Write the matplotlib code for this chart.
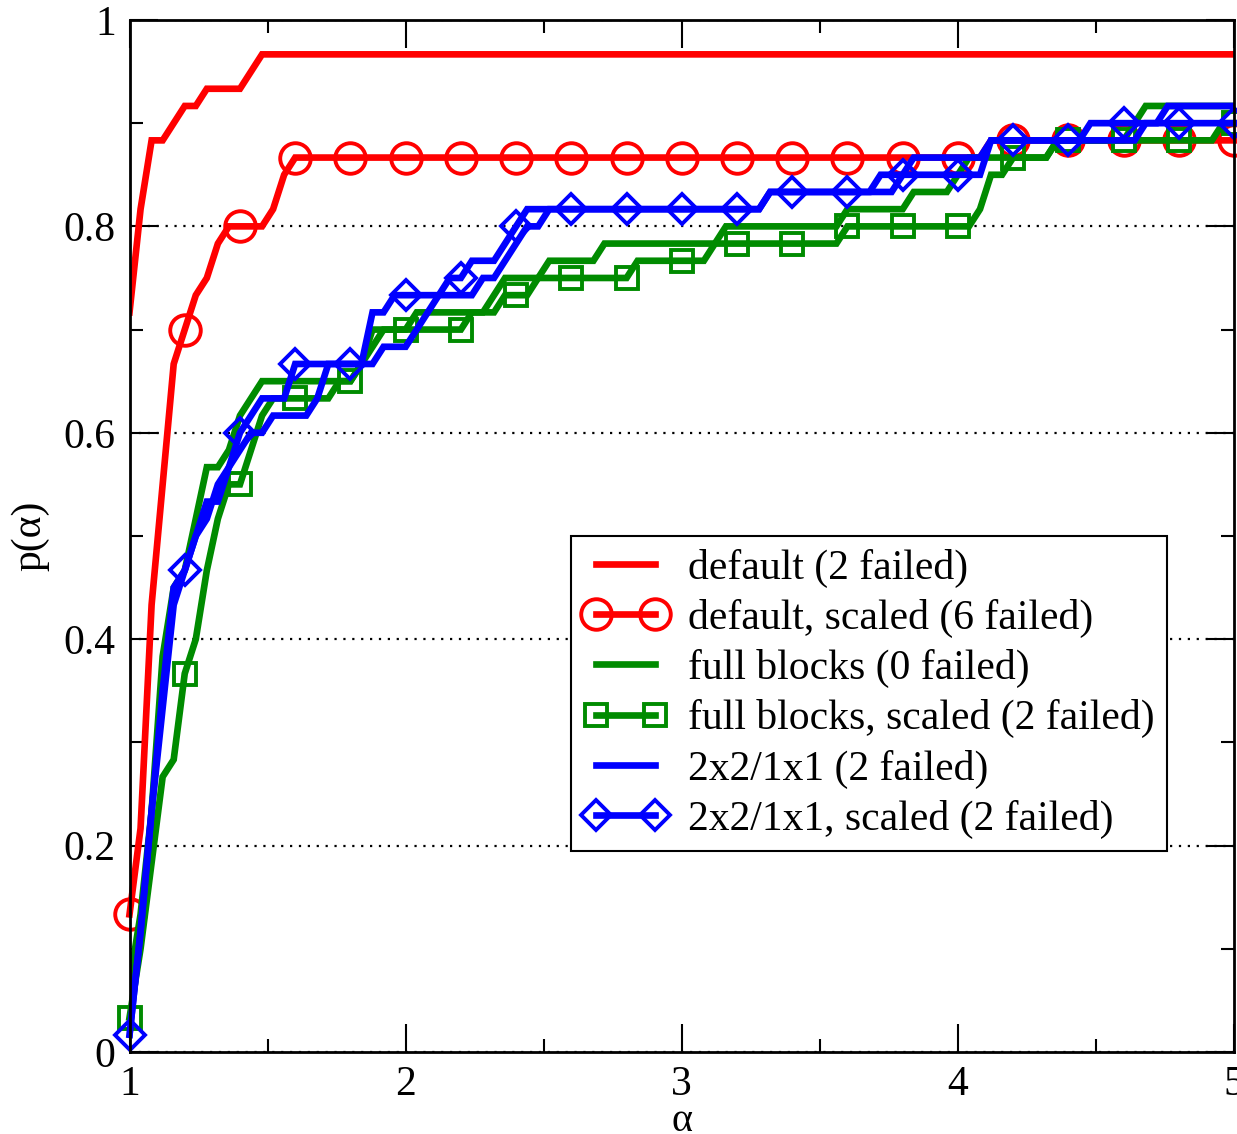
import numpy as np
import matplotlib
matplotlib.use("Agg")
import matplotlib.pyplot as plt
from matplotlib.ticker import MultipleLocator, FixedLocator, FixedFormatter

plt.rcParams['font.family'] = ['Liberation Serif', 'DejaVu Serif']

# performance ratio grid (step 0.04) and number of test problems
alpha = np.linspace(1.0, 5.0, 101)
n_problems = 60

# number of problems solved within ratio alpha, one entry per grid point
default_solved = [
    43, 49, 53, 53, 54, 55, 55, 56, 56, 56, 56, 57, 58, 58, 58, 58, 58, 58, 58, 58,
    58, 58, 58, 58, 58, 58, 58, 58, 58, 58, 58, 58, 58, 58, 58, 58, 58, 58, 58, 58,
    58, 58, 58, 58, 58, 58, 58, 58, 58, 58, 58, 58, 58, 58, 58, 58, 58, 58, 58, 58,
    58, 58, 58, 58, 58, 58, 58, 58, 58, 58, 58, 58, 58, 58, 58, 58, 58, 58, 58, 58,
    58, 58, 58, 58, 58, 58, 58, 58, 58, 58, 58, 58, 58, 58, 58, 58, 58, 58, 58, 58,
    58]
default_scaled_solved = [
    8, 13, 26, 33, 40, 42, 44, 45, 47, 48, 48, 48, 48, 49, 51, 52, 52, 52, 52, 52,
    52, 52, 52, 52, 52, 52, 52, 52, 52, 52, 52, 52, 52, 52, 52, 52, 52, 52, 52, 52,
    52, 52, 52, 52, 52, 52, 52, 52, 52, 52, 52, 52, 52, 52, 52, 52, 52, 52, 52, 52,
    52, 52, 52, 52, 52, 52, 52, 52, 52, 52, 52, 52, 52, 52, 52, 52, 52, 52, 53, 53,
    53, 53, 53, 53, 53, 53, 53, 53, 53, 53, 53, 53, 53, 53, 53, 53, 53, 53, 53, 53,
    53]
full_solved = [
    4, 8, 14, 23, 27, 28, 31, 34, 34, 35, 37, 38, 39, 39, 39, 39, 39, 39, 39, 39,
    39, 40, 42, 42, 42, 42, 43, 43, 43, 43, 43, 43, 43, 44, 45, 45, 45, 45, 46, 46,
    46, 46, 46, 47, 47, 47, 47, 47, 47, 47, 47, 47, 47, 47, 48, 48, 48, 48, 48, 48,
    48, 48, 48, 48, 48, 49, 49, 49, 49, 49, 49, 50, 50, 50, 50, 51, 52, 52, 52, 52,
    52, 52, 52, 52, 53, 53, 53, 53, 53, 53, 53, 54, 55, 55, 55, 55, 55, 55, 55, 55,
    55]
full_scaled_solved = [
    2, 6, 11, 16, 17, 22, 24, 28, 31, 33, 33, 35, 37, 38, 38, 38, 38, 38, 38, 39,
    39, 40, 41, 42, 42, 42, 42, 42, 42, 42, 42, 43, 43, 43, 44, 44, 44, 45, 45, 45,
    45, 45, 45, 45, 45, 45, 46, 46, 46, 46, 46, 46, 46, 47, 47, 47, 47, 47, 47, 47,
    47, 47, 47, 47, 47, 48, 48, 48, 48, 48, 48, 48, 48, 48, 48, 48, 48, 49, 51, 51,
    52, 52, 52, 52, 53, 53, 53, 53, 53, 53, 53, 53, 53, 53, 53, 53, 53, 53, 53, 54,
    54]
block2_solved = [
    1, 7, 14, 20, 26, 28, 30, 32, 32, 34, 35, 36, 36, 37, 37, 37, 37, 38, 40, 40,
    40, 40, 40, 41, 41, 41, 42, 43, 44, 44, 44, 44, 45, 45, 46, 47, 48, 48, 49, 49,
    49, 49, 49, 49, 49, 49, 49, 49, 49, 49, 49, 49, 49, 49, 49, 49, 49, 49, 50, 50,
    50, 50, 50, 50, 50, 50, 50, 50, 50, 50, 51, 52, 52, 52, 52, 52, 52, 52, 53, 53,
    53, 53, 53, 53, 53, 53, 53, 53, 53, 53, 53, 53, 54, 54, 55, 55, 55, 55, 55, 55,
    55]
block2_scaled_solved = [
    1, 7, 14, 21, 27, 28, 30, 31, 33, 34, 36, 37, 38, 38, 38, 40, 40, 40, 40, 40,
    40, 40, 43, 43, 44, 44, 44, 44, 44, 45, 45, 46, 46, 46, 47, 48, 49, 49, 49, 49,
    49, 49, 49, 49, 49, 49, 49, 49, 49, 49, 49, 49, 49, 49, 49, 49, 49, 49, 50, 50,
    50, 50, 50, 50, 50, 50, 50, 50, 51, 51, 51, 51, 51, 51, 51, 51, 51, 51, 53, 53,
    53, 53, 53, 53, 53, 53, 53, 54, 54, 54, 54, 54, 54, 54, 54, 54, 54, 54, 54, 54,
    54]

labels = ["default (2 failed)", "default, scaled (6 failed)",
          "full blocks (0 failed)", "full blocks, scaled (2 failed)",
          "2x2/1x1 (2 failed)", "2x2/1x1, scaled (2 failed)"]
series = [default_solved, default_scaled_solved, full_solved,
          full_scaled_solved, block2_solved, block2_scaled_solved]
colors = ["#ff0000", "#ff0000", "#008b00", "#008b00", "#0000ff", "#0000ff"]
markers = [None, "o", None, "s", None, "D"]
msizes = [0, 22, 0, 16, 0, 15.5]

fig = plt.figure(figsize=(12.37, 11.34), dpi=100)
ax = fig.add_axes([0.1047, 0.0723, 0.8929, 0.9101])

for vals, lab, col, mk, ms in zip(series, labels, colors, markers, msizes):
    p = np.array(vals) / n_problems
    if mk is None:
        ax.plot(alpha, p, color=col, lw=4.8, label=lab,
                solid_joinstyle='miter')
    else:
        # markers every 0.2 in alpha, drawn whole even at the axis edges
        ax.plot(alpha, p, color=col, lw=4.8, label=lab,
                marker=mk, markevery=5, ms=ms, mfc='none', mec=col,
                mew=2.8, solid_joinstyle='miter', clip_on=False)

ax.set_xlim(1, 5)
ax.set_ylim(0, 1)

ax.xaxis.set_major_locator(FixedLocator([1, 2, 3, 4, 5]))
ax.xaxis.set_major_formatter(FixedFormatter(["1", "2", "3", "4", "5"]))
ax.xaxis.set_minor_locator(MultipleLocator(0.5))
ax.yaxis.set_major_locator(FixedLocator([0, 0.2, 0.4, 0.6, 0.8, 1.0]))
ax.yaxis.set_major_formatter(FixedFormatter(["0", "0.2", "0.4", "0.6", "0.8", "1"]))
ax.yaxis.set_minor_locator(MultipleLocator(0.1))

ax.tick_params(which='both', direction='in', top=True, right=True,
               labelsize=30, width=1.5, colors='k')
ax.tick_params(which='major', length=20, pad=10)
ax.tick_params(which='minor', length=9.5)

for sp in ax.spines.values():
    sp.set_linewidth(2)
    sp.set_zorder(3)

ax.set_axisbelow(True)
ax.yaxis.grid(True, which='major', color='k', lw=1.6, ls=(0, (1, 3)))

# x label sits just under the tick labels, close to the bottom edge
ax.text(0.5, -0.049, "α", transform=ax.transAxes, fontsize=29,
        ha='center', va='top')
ax.set_ylabel("p(α)", fontsize=30, labelpad=10)

leg = ax.legend(loc='upper left', bbox_to_anchor=(2.6, 0.5),
                bbox_transform=ax.transData, fontsize=30, numpoints=2,
                handlelength=2.0, handletextpad=0.5, borderpad=0.3,
                labelspacing=0.27, borderaxespad=0, fancybox=False,
                framealpha=1, edgecolor='k')
leg.get_frame().set_linewidth(1.5)
leg.set_zorder(5)

fig.savefig("out.png", dpi=100)
